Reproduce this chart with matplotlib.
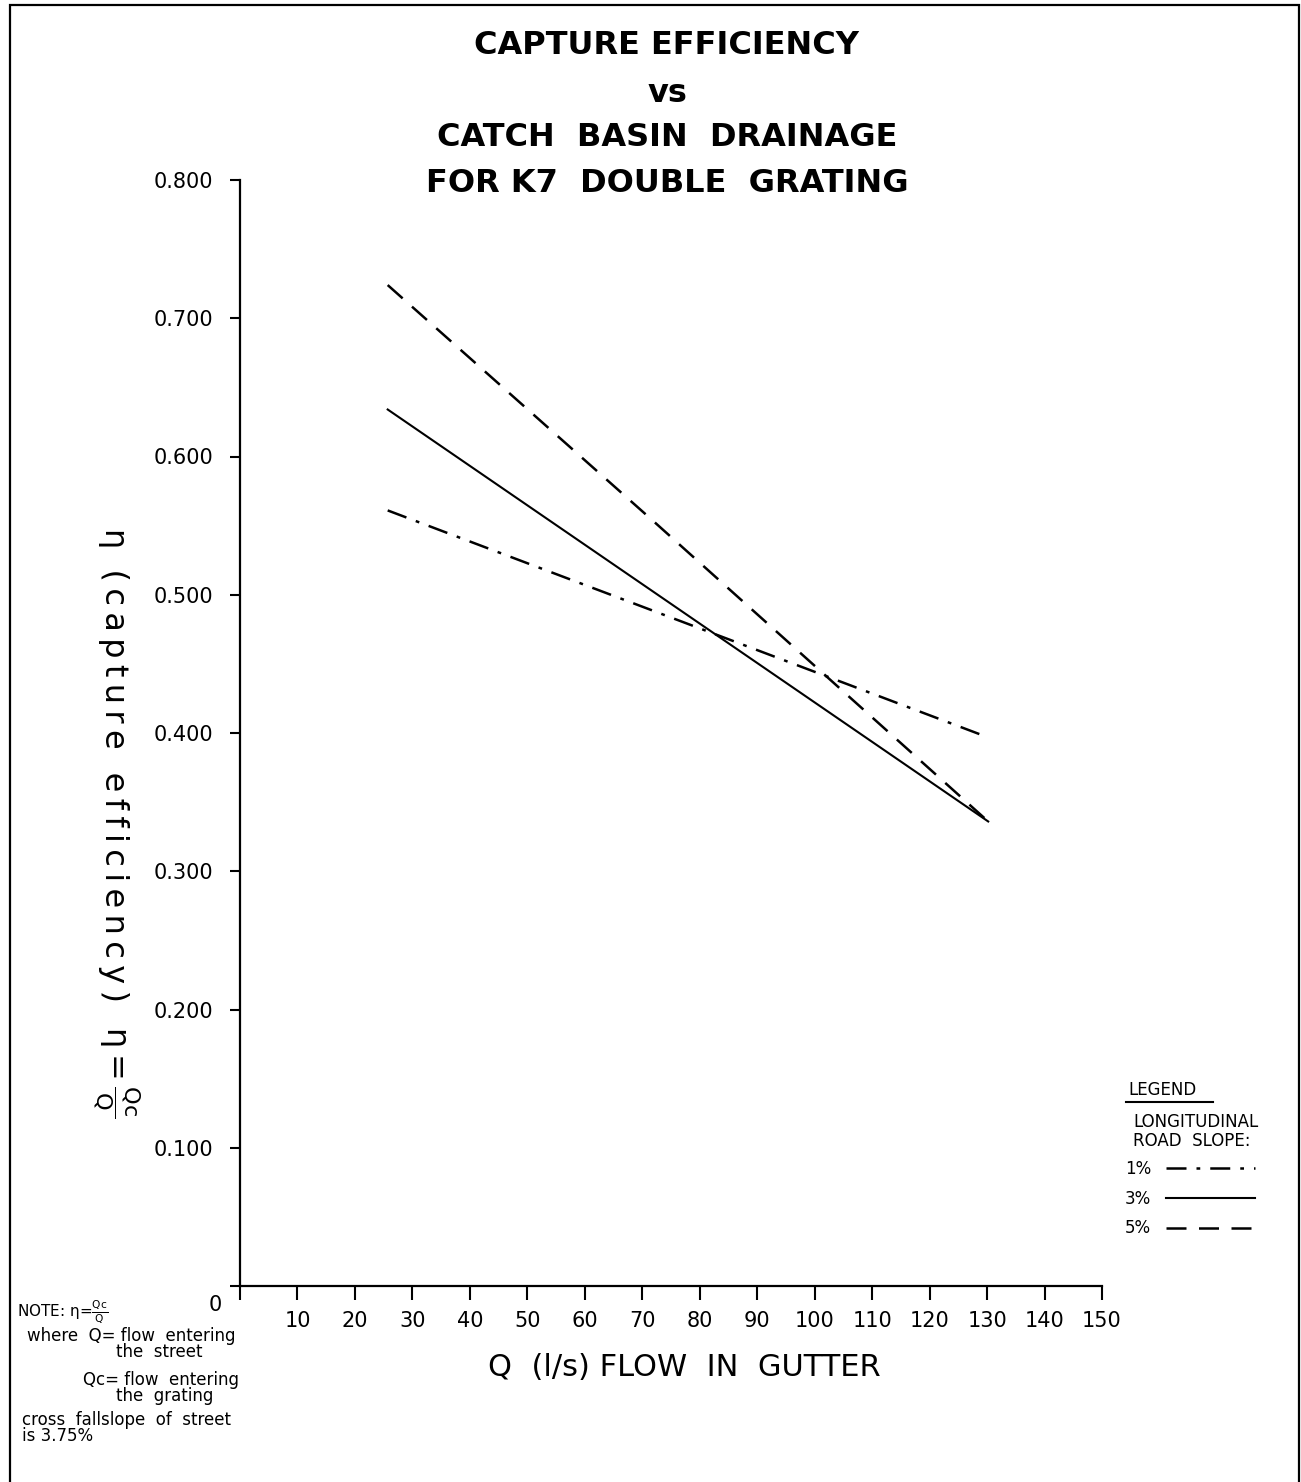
import matplotlib
matplotlib.use("Agg")
import matplotlib.pyplot as plt
from matplotlib.patches import Rectangle
from matplotlib.lines import Line2D

# --- data ---
slopes = ["1%", "3%", "5%"]
q_1pct = [25.7, 128.8]
eta_1pct = [0.561, 0.399]
q_3pct = [25.7, 130.2]
eta_3pct = [0.634, 0.336]
q_5pct = [25.7, 72.0, 130.2]
eta_5pct = [0.724, 0.553, 0.336]

x_ticks = list(range(0, 151, 10))
x_labels = [""] + [str(v) for v in x_ticks[1:]]
y_ticks = [0, 0.1, 0.2, 0.3, 0.4, 0.5, 0.6, 0.7, 0.8]
y_labels = ["", "0.100", "0.200", "0.300", "0.400", "0.500", "0.600", "0.700", "0.800"]

plt.rcParams['font.family'] = ['DejaVu Sans']

W, H = 1301, 1482
fig = plt.figure(figsize=(W / 100, H / 100), dpi=100)
ax = fig.add_axes([240 / W, 1 - 1286 / H, (1102 - 240) / W, (1286 - 180) / H])

lw = 1.8
l1, = ax.plot(q_1pct, eta_1pct, color="black", lw=lw, dashes=(8, 4, 1.5, 4))
l3, = ax.plot(q_3pct, eta_3pct, color="black", lw=1.5)
l5, = ax.plot(q_5pct, eta_5pct, color="black", lw=lw, dashes=(8, 5))

ax.set_xlim(0, 150)
ax.set_ylim(0, 0.8)
ax.set_xticks(x_ticks)
ax.set_xticklabels(x_labels)
ax.set_yticks(y_ticks)
ax.set_yticklabels(y_labels)
for s in ["top", "right"]:
    ax.spines[s].set_visible(False)
for s in ["left", "bottom"]:
    ax.spines[s].set_linewidth(1.6)
ax.tick_params(axis="x", direction="out", length=10, width=1.5, pad=8, labelsize=15)
ax.tick_params(axis="y", direction="out", length=7, width=1.5, pad=12, labelsize=15)
ax.annotate("0", xy=(0, 0), xytext=(-18, -14), textcoords="offset points",
            ha="center", va="center", fontsize=15)

# title
title_lines = ["CAPTURE EFFICIENCY", "vs", "CATCH  BASIN  DRAINAGE", "FOR K7  DOUBLE  GRATING"]
title_y = [45, 93, 137, 183]
for txt, yy in zip(title_lines, title_y):
    fig.text(667 / W, 1 - yy / H, txt, ha="center", va="center",
             fontsize=23, fontweight="bold")

# axis labels
fig.text(684 / W, 1 - 1368 / H, "Q  (l/s) FLOW  IN  GUTTER", ha="center", va="center",
         fontsize=22)
# letter-spaced like the hand lettering
ylab = "\u2009".join("(capture efficiency)")
fig.text(113 / W, 1 - 528 / H, "η  " + ylab, rotation=270,
         ha="center", va="top", fontsize=23)
fig.text(116 / W, 1 - 1072 / H, r"$\mathrm{\eta}=\frac{\mathrm{Qc}}{\mathrm{Q}}$", rotation=270,
         ha="center", va="center", fontsize=23)

# legend
fig.text(1128 / W, 1 - 1090 / H, "LEGEND", ha="left", va="center", fontsize=12)
fig.add_artist(Line2D([1126 / W, 1213 / W], [1 - 1102 / H, 1 - 1102 / H],
                      color="black", lw=1.5, transform=fig.transFigure))
fig.text(1133 / W, 1 - 1122 / H, "LONGITUDINAL", ha="left", va="center", fontsize=12)
fig.text(1133 / W, 1 - 1141 / H, "ROAD  SLOPE:", ha="left", va="center", fontsize=12)
ax.legend([l1, l3, l5], slopes, loc="upper left",
          bbox_to_anchor=(1125 / W, 1 - 1160 / H), bbox_transform=fig.transFigure,
          frameon=False, markerfirst=False, handlelength=5.3, fontsize=12,
          borderpad=0, borderaxespad=0, labelspacing=0.7, handletextpad=0.9)

# note
note_fs = 12
fig.text(17 / W, 1 - 1312 / H, r"NOTE: $\mathrm{\eta}$=$\frac{\mathrm{Qc}}{\mathrm{Q}}$", ha="left",
         va="center", fontsize=11)
fig.text(27 / W, 1 - 1336 / H, "where  Q= flow  entering", ha="left", va="center", fontsize=note_fs)
fig.text(116 / W, 1 - 1352 / H, "the  street", ha="left", va="center", fontsize=note_fs)
fig.text(83 / W, 1 - 1380 / H, "Qc= flow  entering", ha="left", va="center", fontsize=note_fs)
fig.text(116 / W, 1 - 1396 / H, "the  grating", ha="left", va="center", fontsize=note_fs)
fig.text(22 / W, 1 - 1420 / H, "cross  fallslope  of  street", ha="left", va="center", fontsize=note_fs)
fig.text(22 / W, 1 - 1436 / H, "is 3.75%", ha="left", va="center", fontsize=note_fs)

# page frame
fig.patches.append(Rectangle((10 / W, -0.01), (1299 - 10) / W, 1.01 - 5 / H, fill=False,
                             lw=1.6, edgecolor="black", transform=fig.transFigure, clip_on=False))

fig.savefig("out.png", dpi=100)
